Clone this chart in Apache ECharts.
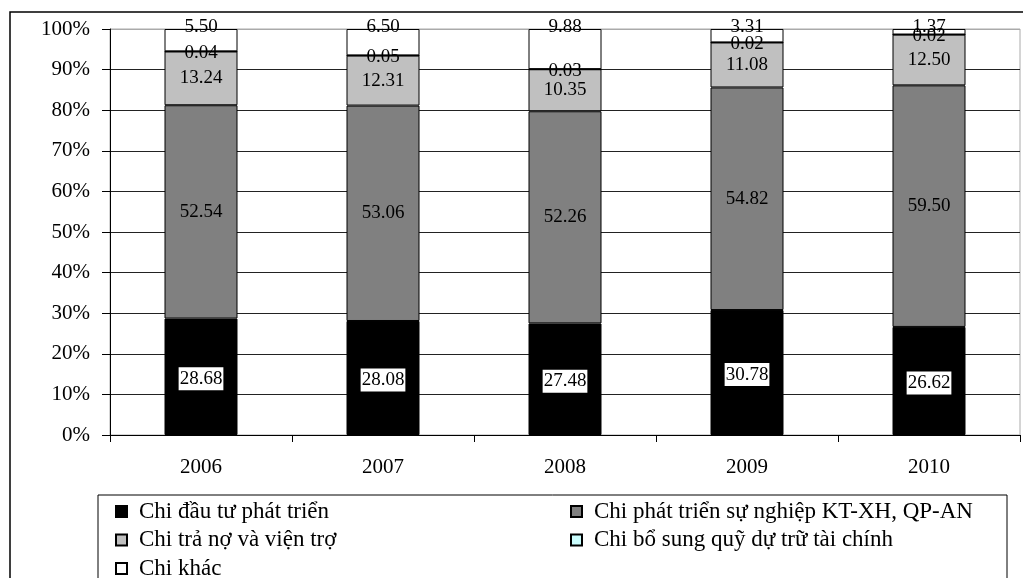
<!DOCTYPE html>
<html>
<head>
<meta charset="utf-8">
<style>
  html, body { margin: 0; padding: 0; background: #fff; }
  #chart { width: 1023px; height: 578px; }
</style>
<script src="https://cdn.jsdelivr.net/npm/echarts@6/dist/echarts.min.js"></script>
</head>
<body>
<div id="chart"></div>
<script>
// Cơ cấu chi ngân sách nhà nước, 2006–2010 (%)
const years = ['2006', '2007', '2008', '2009', '2010'];
const seriesNames = [
  'Chi đầu tư phát triển',
  'Chi phát triển sự nghiệp KT-XH, QP-AN',
  'Chi trả nợ và viện trợ',
  'Chi bổ sung quỹ dự trữ tài chính',
  'Chi khác'
];
const chiDauTu = [28.68, 28.08, 27.48, 30.78, 26.62];
const chiSuNghiep = [52.54, 53.06, 52.26, 54.82, 59.50];
const chiTraNo = [13.24, 12.31, 10.35, 11.08, 12.50];
const chiBoSung = [0.04, 0.05, 0.03, 0.02, 0.02];
const chiKhac = [5.50, 6.50, 9.88, 3.31, 1.37];
const seriesColors = ['#000000', '#808080', '#c0c0c0', '#ccffff', '#ffffff'];

const FONT = '"Liberation Serif", "DejaVu Serif", serif';

const fmt = p => p.value.toFixed(2);

const baseLabel = {
  show: true,
  color: '#000',
  fontFamily: FONT,
  fontSize: 19,
  formatter: fmt
};

const labelStyles = [
  Object.assign({}, baseLabel, { position: 'inside', backgroundColor: '#fff', padding: [3, 1, 1, 1], offset: [0, 2] }),
  Object.assign({}, baseLabel, { position: 'inside' }),
  Object.assign({}, baseLabel, { position: 'inside' }),
  Object.assign({}, baseLabel, { position: ['50%', 0], align: 'center', verticalAlign: 'middle', offset: [0, 2] }),
  Object.assign({}, baseLabel, { position: ['50%', 0], align: 'center', verticalAlign: 'middle', offset: [0, -2] })
];

const values = [chiDauTu, chiSuNghiep, chiTraNo, chiBoSung, chiKhac];

const series = values.map((data, i) => ({
  name: seriesNames[i],
  type: 'bar',
  stack: 'total',
  barWidth: 73,
  data: data,
  itemStyle: { color: seriesColors[i], borderColor: '#000', borderWidth: 1 },
  label: labelStyles[i],
  emphasis: { disabled: true },
  animation: false
}));

const gridLineColors = ['#222', '#222', '#222', '#222', '#222', '#222', '#222', '#222', '#222', '#222', '#aaa'];

// Legend: two columns, one legend component per entry
const legendSlots = [
  { name: seriesNames[0], left: 115, top: 500 },
  { name: seriesNames[1], left: 570, top: 500 },
  { name: seriesNames[2], left: 115, top: 528.5 },
  { name: seriesNames[3], left: 570, top: 528.5 },
  { name: seriesNames[4], left: 115, top: 557 }
];

const legends = legendSlots.map(s => ({
  left: s.left,
  top: s.top,
  padding: 0,
  itemWidth: 11,
  itemHeight: 11,
  icon: 'rect',
  selectedMode: false,
  data: [s.name],
  textStyle: { fontFamily: FONT, fontSize: 23, lineHeight: 23, color: '#000', padding: [0, 0, 0, 7] }
}));

const option = {
  backgroundColor: '#fff',
  animation: false,
  grid: {
    left: 110, right: 3, top: 29, bottom: 143,
    show: true, borderColor: '#aaa', borderWidth: 1
  },
  xAxis: {
    type: 'category',
    data: years,
    axisLine: { lineStyle: { color: '#000', width: 1 } },
    axisTick: { show: true, length: 7, lineStyle: { color: '#000' } },
    axisLabel: { margin: 22, fontFamily: FONT, fontSize: 21, color: '#000' }
  },
  yAxis: {
    type: 'value',
    min: 0,
    max: 100,
    interval: 10,
    axisLine: { show: true, lineStyle: { color: '#000', width: 1 } },
    axisTick: { show: true, length: 8, lineStyle: { color: '#000' } },
    axisLabel: { margin: 20, formatter: '{value}%', fontFamily: FONT, fontSize: 21, color: '#000' },
    splitLine: { show: true, lineStyle: { color: gridLineColors, width: 1 } }
  },
  legend: legends,
  graphic: [
    { type: 'rect', shape: { x: 10, y: 12, width: 1100, height: 700 }, style: { fill: 'none', stroke: '#000', lineWidth: 1.5 }, silent: true },
    { type: 'rect', shape: { x: 98, y: 495, width: 909, height: 200 }, style: { fill: 'none', stroke: '#000', lineWidth: 1 }, silent: true }
  ],
  series: series
};

const chart = echarts.init(document.getElementById('chart'), null, { renderer: 'canvas' });
chart.setOption(option);
</script>
</body>
</html>
